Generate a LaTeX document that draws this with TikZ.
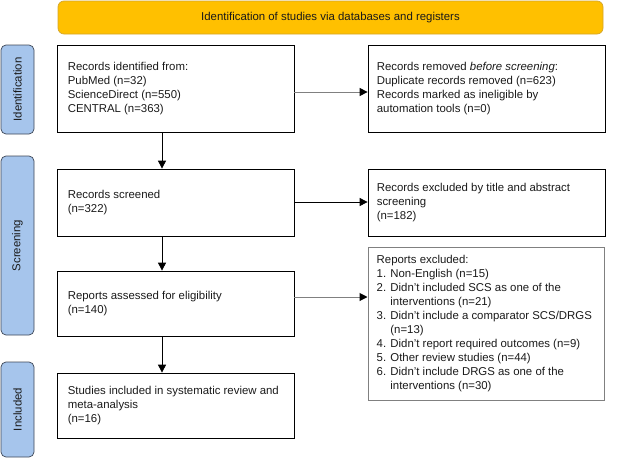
\documentclass[tikz,border=0pt]{standalone}
\usepackage{fontspec}
\setmainfont{Liberation Sans}
\usetikzlibrary{arrows.meta,calc}
\definecolor{gold}{HTML}{FFC000}
\definecolor{goldline}{HTML}{D4A52A}
\definecolor{barblue}{HTML}{A6C5EC}
\definecolor{barline}{HTML}{3E4756}
\definecolor{txt}{HTML}{1A1A1A}
\begin{document}
\begin{tikzpicture}[x=1pt,y=-1pt,
  font=\fontsize{11.4}{14}\selectfont,
  hdr/.style={draw=goldline, fill=gold, line width=0.7pt, rounded corners=6pt, inner sep=0pt, text=txt},
  sidebar/.style={draw=barline, fill=barblue, line width=0.7pt, rounded corners=5pt, inner sep=0pt},
  sidetext/.style={rotate=90, text=txt, inner sep=0pt},
  box/.style={draw=black, line width=0.75pt, inner sep=0pt, minimum width=237pt},
  graybox/.style={draw=black!50, line width=1pt, inner sep=0pt, minimum width=236pt},
  boxtext/.style={anchor=west, align=left, inner sep=0pt, text=txt},
  arr/.style={line width=0.8pt, -{Triangle[length=8pt,width=8pt]}},
  grayarr/.style={line width=1pt, draw=black!50, -{Triangle[length=8pt,width=8pt,color=black]}}
]
\useasboundingbox (0,0) rectangle (621,458);

% header
\node[hdr, minimum width=545pt, minimum height=33pt] (hdr) at (330.5,17.5)
  {Identification of studies via databases and registers};

% side bars
\node[sidebar, minimum width=33pt, minimum height=89pt] (idbar) at (17.5,89.5) {};
\node[sidetext] (idtxt) at (idbar.center) {Identification};
\node[sidebar, minimum width=33pt, minimum height=179pt] (scbar) at (17.5,245.5) {};
\node[sidetext] (sctxt) at (scbar.center) {Screening};
\node[sidebar, minimum width=33pt, minimum height=95pt] (inbar) at (17.5,409.5) {};
\node[sidetext] (intxt) at (inbar.center) {Included};

% left column
\node[box, minimum height=87pt] (b1) at (175.5,88.5) {};
\node[boxtext] (b1t) at ([xshift=11pt]b1.west)
  {Records identified from:\\PubMed (n=32)\\ScienceDirect (n=550)\\CENTRAL (n=363)};
\node[box, minimum height=67pt] (scr) at (175.5,202.5) {};
\node[boxtext] (scrt) at ([xshift=11pt]scr.west) {Records screened\\(n=322)};
\node[box, minimum height=65pt] (ass) at (175.5,303.5) {};
\node[boxtext] (asst) at ([xshift=11pt]ass.west) {Reports assessed for eligibility\\(n=140)};
\node[box, minimum height=65pt] (inc) at (175.5,405.5) {};
\node[boxtext] (inct) at ([xshift=11pt]inc.west)
  {Studies included in systematic review and\\meta-analysis\\(n=16)};

% right column
\node[box, minimum height=87pt] (rem) at (486.5,88.5) {};
\node[boxtext] (remt) at ([xshift=9pt]rem.west)
  {Records removed \textit{before screening}:\\Duplicate records removed (n=623)\\Records marked as ineligible by\\automation tools (n=0)};
\node[box, minimum height=67pt] (exc) at (486.5,202.5) {};
\node[boxtext] (exct) at ([xshift=9pt]exc.west)
  {Records excluded by title and abstract\\screening\\(n=182)};
\node[graybox, minimum height=153pt] (rex) at (486,323.5) {};
\node[boxtext] (rext) at ([xshift=9pt]rex.west)
  {Reports excluded:\\
   1. Non-English (n=15)\\
   2. Didn't included SCS as one of the\\
   \phantom{2. }interventions (n=21)\\
   3. Didn't include a comparator SCS/DRGS\\
   \phantom{3. }(n=13)\\
   4. Didn't report required outcomes (n=9)\\
   5. Other review studies (n=44)\\
   6. Didn't include DRGS as one of the\\
   \phantom{6. }interventions (n=30)};

% connectors
\coordinate (vx) at (162,0);
\draw[arr] (b1.south -| vx) -- (scr.north -| vx);
\draw[arr] (scr.south -| vx) -- (ass.north -| vx);
\draw[arr] (ass.south -| vx) -- (inc.north -| vx);
\draw[grayarr] (b1.east |- 0,92) -- (rem.west |- 0,92);
\draw[arr] (scr.east |- 0,202) -- (exc.west |- 0,202);
\draw[grayarr] (ass.east |- 0,297) -- (rex.west |- 0,297);
\end{tikzpicture}
\end{document}
